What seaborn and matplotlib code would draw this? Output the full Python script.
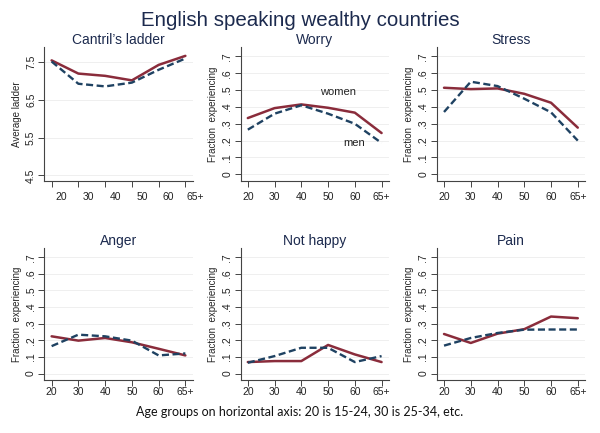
import matplotlib
matplotlib.use("Agg")
import matplotlib.pyplot as plt
import matplotlib.transforms as mtransforms
import numpy as np
import pandas as pd
import seaborn as sns

ages = ["20", "30", "40", "50", "60", "65+"]
panel_titles = ["Cantril\u2019s ladder", "Worry", "Stress", "Anger", "Not happy", "Pain"]

ladder_women = [7.55, 7.20, 7.14, 7.02, 7.43, 7.67]
ladder_men = [7.52, 6.93, 6.86, 6.96, 7.30, 7.60]
worry_women = [0.334, 0.393, 0.415, 0.395, 0.366, 0.245]
worry_men = [0.265, 0.360, 0.410, 0.360, 0.300, 0.186]
stress_women = [0.514, 0.506, 0.510, 0.478, 0.425, 0.277]
stress_men = [0.370, 0.550, 0.524, 0.449, 0.368, 0.200]
anger_women = [0.224, 0.198, 0.214, 0.188, 0.149, 0.109]
anger_men = [0.165, 0.234, 0.224, 0.198, 0.109, 0.121]
nothappy_women = [0.069, 0.075, 0.075, 0.172, 0.115, 0.069]
nothappy_men = [0.065, 0.105, 0.155, 0.155, 0.069, 0.105]
pain_women = [0.238, 0.184, 0.240, 0.267, 0.343, 0.333]
pain_men = [0.168, 0.214, 0.244, 0.264, 0.265, 0.265]

frac_ticks = [0, 0.1, 0.2, 0.3, 0.4, 0.5, 0.6, 0.7]
frac_labels = ["0", ".1", ".2", ".3", ".4", ".5", ".6", ".7"]
ladder_ticks = [4.5, 5.5, 6.5, 7.5]
ladder_labels = ["4.5", "5.5", "6.5", "7.5"]

series = [
    (ladder_women, ladder_men),
    (worry_women, worry_men),
    (stress_women, stress_men),
    (anger_women, anger_men),
    (nothappy_women, nothappy_men),
    (pain_women, pain_men),
]

rows = []
for p, (w, m) in enumerate(series):
    for i, a in enumerate(ages):
        rows.append({"panel": p, "pos": i, "age": a, "sex": "women", "value": w[i]})
        rows.append({"panel": p, "pos": i, "age": a, "sex": "men", "value": m[i]})
df = pd.DataFrame(rows)

sns.set_style("white")
plt.rcParams["font.family"] = ["Liberation Sans", "DejaVu Sans"]

RED = "#8a2c3b"
BLUE = "#1f4262"
NAVY = "#1c2a4e"
AXC = "#444444"

fig = plt.figure(figsize=(6.0, 4.33), dpi=100)

lefts = [0.074, 0.401, 0.728]
width = 0.247
tops = [(0.582, 0.309), (0.122, 0.305)]

for p in range(6):
    r, c = divmod(p, 3)
    ax = fig.add_axes([lefts[c], tops[r][0], width, tops[r][1]])
    sub = df[df.panel == p]
    sns.lineplot(data=sub[sub.sex == "women"], x="pos", y="value", ax=ax,
                 color=RED, lw=1.8, legend=False, estimator=None)
    sns.lineplot(data=sub[sub.sex == "men"], x="pos", y="value", ax=ax,
                 color=BLUE, lw=1.7, legend=False, estimator=None,
                 linestyle=(0, (3.0, 1.5)))
    ax.set_xlim(-0.27, 5.27)
    if p == 0:
        ax.set_ylim(4.35, 7.9)
        ax.set_yticks(ladder_ticks)
        ax.set_yticklabels(ladder_labels)
        ax.set_ylabel("Average ladder", fontsize=7, labelpad=3)
    else:
        ax.set_ylim(-0.04, 0.755)
        ax.set_yticks(frac_ticks)
        ax.set_yticklabels(frac_labels)
        ax.set_ylabel("Fraction  experiencing", fontsize=7, labelpad=3)
    ax.set_xticks(range(len(ages)))
    ax.set_xticklabels(ages)
    ax.set_xlabel("")
    for yt in ax.get_yticks():
        ax.axhline(yt, color="#ececec", lw=0.6, zorder=0)
    for s in ["top", "right"]:
        ax.spines[s].set_visible(False)
    for s in ["left", "bottom"]:
        ax.spines[s].set_color(AXC)
        ax.spines[s].set_linewidth(0.8)
    ax.tick_params(axis="both", which="both", length=4, width=0.7, color=AXC,
                   labelsize=7.5, labelcolor="#222222", pad=2,
                   bottom=True, left=True)
    ax.tick_params(axis="x", pad=4 if r == 0 else 1)
    for lab in ax.get_yticklabels():
        lab.set_rotation(90)
        lab.set_va("center")
    ax.set_title(panel_titles[p], fontsize=10, color=NAVY, pad=1)
    if p == 0:
        off = mtransforms.ScaledTranslation(10 / 100, 0, fig.dpi_scale_trans)
        for lab in ax.get_xticklabels():
            lab.set_transform(lab.get_transform() + off)
    if p == 1:
        ax.text(3.36, 0.49, "women", fontsize=8, color="#222222", ha="center", va="center")
        ax.text(3.97, 0.188, "men", fontsize=8, color="#222222", ha="center", va="center")

fig.text(0.5, 0.953, "English speaking wealthy countries", ha="center", va="center",
         fontsize=14.8, color=NAVY)
fig.text(0.5, 0.048, "Age groups on horizontal axis: 20 is 15-24, 30 is 25-34, etc.",
         ha="center", va="center", fontsize=9, color="#111111",
         family=["Lato", "DejaVu Sans"])

fig.savefig("out.png", dpi=100, facecolor="white")
